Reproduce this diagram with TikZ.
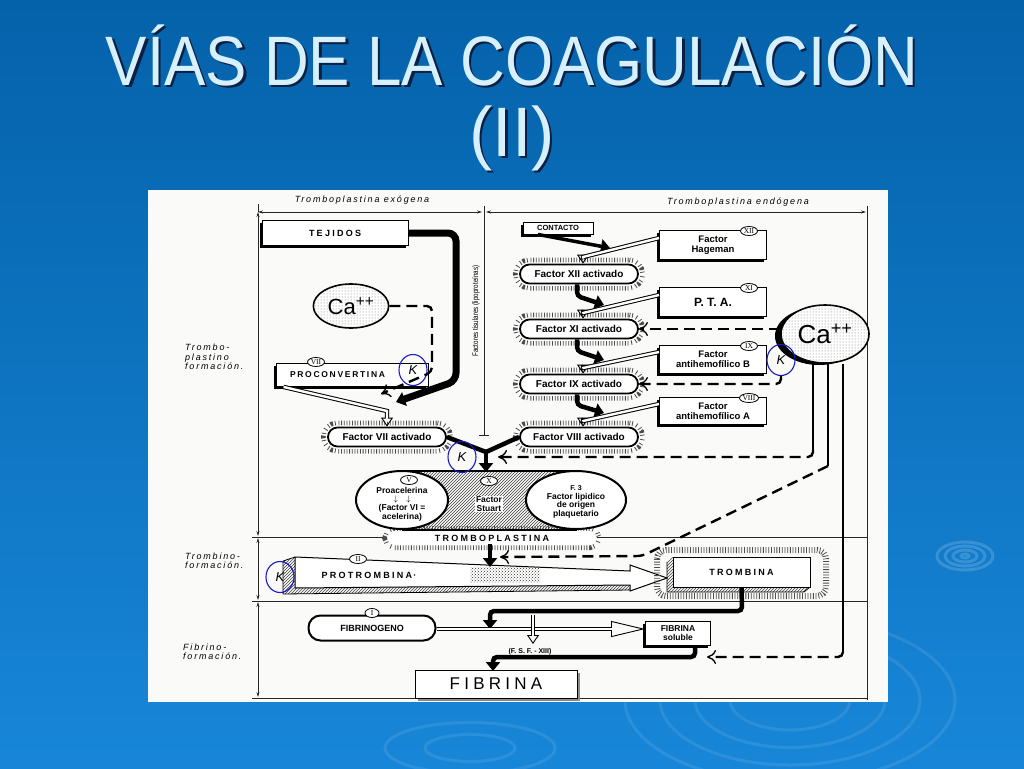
\documentclass[tikz,border=0pt]{standalone}
\usepackage{fontspec}
\setmainfont{Liberation Sans}
\newfontfamily\spacedFont[LetterSpace=25]{Liberation Sans}
\newfontfamily\wideFont[LetterSpace=20]{Liberation Sans}
\newfontfamily\romanFont{Liberation Serif}
\usepackage{tikz}
\usetikzlibrary{shapes.geometric, arrows.meta, patterns, shadows}
\definecolor{slideTop}{RGB}{4,98,170}
\definecolor{slideBottom}{RGB}{24,134,216}
\definecolor{titleBlue}{RGB}{214,240,255}
\definecolor{titleShade}{RGB}{12,32,66}
\definecolor{paper}{RGB}{250,250,249}
\definecolor{kBlue}{RGB}{25,25,200}
\newcommand{\shadowText}[1]{\makebox[0pt][l]{\hspace*{2.5pt}\raisebox{-2.5pt}{\textcolor{titleShade}{#1}}}#1}
\tikzstyle{titleText} = [anchor=base, inner sep=0pt, text=titleBlue, font=\fontsize{70}{70}\selectfont]
\tikzstyle{ripple} = [draw=white, opacity=0.09, line width=3pt]
\tikzstyle{frameLine} = [line width=0.7pt, black!85]
\tikzstyle{dimLine} = [line width=0.7pt, black!85, {Stealth[length=5pt, width=3pt]}-{Stealth[length=5pt, width=3pt]}]
\tikzstyle{sideLabel} = [inner sep=0pt, align=left, anchor=west, font=\wideFont\itshape\fontsize{9}{9.5}\selectfont]
\tikzstyle{factorBox} = [rectangle, draw=black, line width=0.9pt, fill=white, align=center, drop shadow={shadow xshift=-2.5pt, shadow yshift=-2.5pt, fill=black, opacity=1}, font=\bfseries\fontsize{9.5}{10}\selectfont]
\tikzstyle{activeNode} = [rectangle, rounded corners=9.5pt, draw=black, line width=1.8pt, fill=white, minimum width=118pt, minimum height=19pt, font=\bfseries\fontsize{10}{10}\selectfont, preaction={draw=black!70, line width=14pt, dash pattern=on 0.8pt off 1.9pt}, preaction={draw=white, line width=4.5pt}]
\tikzstyle{romanTag} = [ellipse, draw=black, line width=0.8pt, fill=white, inner sep=0.3pt, minimum width=17pt, minimum height=9pt, font=\romanFont\fontsize{7.5}{7.5}\selectfont]
\tikzstyle{caNode} = [ellipse, draw=black, line width=1.6pt, fill=white, postaction={pattern=dots, pattern color=black!55}, font=\fontsize{22}{22}\selectfont]
\tikzstyle{kNode} = [ellipse, draw=kBlue, line width=1.1pt, minimum width=28pt, minimum height=31pt, inner sep=0pt, font=\itshape\fontsize{13}{13}\selectfont]
\tikzstyle{ringNode} = [ellipse, draw=black, line width=2pt, fill=white]
\tikzstyle{ringText} = [align=center, inner sep=0pt, font=\bfseries\fontsize{8.5}{8.7}\selectfont]
\tikzstyle{thickLink} = [line width=4.5pt, rounded corners=4pt]
\tikzstyle{thickArrow} = [line width=4.5pt, rounded corners=4pt, -{Triangle[length=9pt, width=14pt]}]
\tikzstyle{dashArrow} = [line width=2.4pt, dash pattern=on 11pt off 6pt, rounded corners=5pt, -{To[length=9pt, width=14pt, line width'=1.3pt]}]
\tikzstyle{hollowArrow} = [line width=4.4pt, -{Triangle[open, length=9pt, width=12pt, line width'=0.9pt]}, postaction={draw=white, line width=2.4pt, -, shorten >=5pt}]
\tikzstyle{longHollowArrow} = [line width=4.4pt, -{Triangle[open, length=34pt, width=16pt, line width'=0.9pt]}, postaction={draw=white, line width=2.4pt, -, shorten >=20pt}]
\tikzstyle{haloLine} = [draw=black!70, line width=6pt, dash pattern=on 0.8pt off 1.9pt]
\tikzstyle{hatch} = [pattern=north east lines, pattern color=black!75]
\begin{document}
\begin{tikzpicture}[x=1pt, y=-1pt]
% slide background
\fill[top color=slideTop, bottom color=slideBottom] (0,0) rectangle (1024,768);
\useasboundingbox (0,0) rectangle (1024,768);
\foreach \r in {4,12,20,28}
  \draw[ripple, opacity=0.16] (965,556) ellipse [x radius=\r, y radius=\r/2];
\foreach \r in {60,95,130,165}
  \draw[ripple] (790,700) ellipse [x radius=\r, y radius=0.5*\r];
\foreach \r in {45,85}
  \draw[ripple] (470,748) ellipse [x radius=\r, y radius=0.3*\r];
\fill[paper] (148,190) rectangle (888,702);

% title
\node (title) [titleText] at (512,85) {\shadowText{\scalebox{0.885}[1]{VÍAS DE LA COAGULACIÓN}}};
\node (part) [titleText] at (512,156) {\shadowText{(II)}};

% frame of the scheme
\draw[dimLine] (258,212) -- (482,212);
\draw[dimLine] (486,212) -- (866,212);
\draw[dimLine] (258,212) -- (258,536);
\draw[dimLine] (258,538) -- (258,600);
\draw[dimLine] (258,602) -- (258,697);
\draw[frameLine] (258,204) -- (258,212);
\draw[frameLine] (484,206) -- (484,435) (479,435) -- (489,435);
\draw[frameLine] (867,206) -- (867,700);
\draw[frameLine] (252,537) -- (867,537);
\draw[frameLine] (252,601) -- (867,601);
\draw[frameLine] (252,698) -- (867,698);
\node (exoLabel) [sideLabel, anchor=center] at (362,200) {Tromboplastina exógena};
\node (endoLabel) [sideLabel, anchor=center] at (738,202) {Tromboplastina endógena};
\node (tromboLabel) [sideLabel] at (185,357) {Trombo-\\plastino\\formación.};
\node (trombinoLabel) [sideLabel] at (185,561) {Trombino-\\formación.};
\node (fibrinoLabel) [sideLabel] at (183,652) {Fibrino-\\formación.};
\node (tisular) [rotate=90, inner sep=0pt, font=\fontsize{8}{8}\selectfont] at (476,311) {\scalebox{0.78}[1]{Factores tisulares (lipoproteínas)}};

% exogenous way
\node (tejidos) [factorBox, minimum width=146pt, minimum height=25pt, font=\spacedFont\bfseries\fontsize{9}{10}\selectfont] at (335,233) {TEJIDOS};
\node (ca1) [caNode, minimum width=70pt, minimum height=44pt] at (351,306) {Ca\textsuperscript{++}};
\node (proconv) [factorBox, minimum width=152pt, minimum height=23pt, text width=140pt, align=left, font=\wideFont\bfseries\fontsize{8.5}{9}\selectfont] at (352,375) {\hspace*{8pt}PROCONVERTINA};
\node (vii) [romanTag] at (316,362) {VII};
\node (k1) [kNode] at (413,370) {K};
\node (fVII) [activeNode] at (387,437) {Factor VII activado};

\coordinate (tejBend1) at (456,233);
\coordinate (tejBend2) at (456,381);
\coordinate (tejEnd) at (396,402);
\draw[thickArrow, line width=7pt, rounded corners=8pt] (tejidos.east) -- (tejBend1) -- (tejBend2) -- (tejEnd);
\coordinate (caBend1) at (432,306);
\coordinate (caBend2) at (432,372);
\coordinate (caEnd) at (381,394);
\draw[dashArrow] (ca1.east) -- (caBend1) -- (caBend2) -- (caEnd);
\coordinate (procBend) at (387,411);
\draw[hollowArrow] ([xshift=8pt]proconv.south west) -- (procBend) -- (fVII.north);

% endogenous way
\node (contacto) [factorBox, minimum width=70pt, minimum height=12pt, inner sep=1pt, font=\bfseries\fontsize{7.5}{8}\selectfont] at (558,228) {CONTACTO};
\node (hageman) [factorBox, minimum width=107pt, minimum height=29pt] at (713,245) {Factor\\Hageman};
\node (xii) [romanTag] at (749,231) {XII};
\node (fXII) [activeNode] at (579,274) {Factor XII activado};
\node (pta) [factorBox, minimum width=107pt, minimum height=29pt, font=\bfseries\fontsize{12}{12}\selectfont] at (713,302) {P. T. A.};
\node (xi) [romanTag] at (749,288) {XI};
\node (fXI) [activeNode] at (579,329) {Factor XI activado};
\node (antiB) [factorBox, minimum width=107pt, minimum height=28pt] at (713,359) {Factor\\antihemofílico B};
\node (ix) [romanTag] at (749,346) {IX};
\node (fIX) [activeNode] at (579,384) {Factor IX activado};
\node (antiA) [factorBox, minimum width=107pt, minimum height=27pt] at (713,411) {Factor\\antihemofílico A};
\node (viii) [romanTag] at (749,398) {VIII};
\node (fVIII) [activeNode] at (579,437) {Factor VIII activado};
\node (ca2) [caNode, minimum width=88pt, minimum height=58pt, font=\fontsize{26}{26}\selectfont, drop shadow={shadow xshift=-6pt, shadow yshift=-2pt, fill=black, opacity=1}] at (825,334) {Ca\textsuperscript{++}};
\node (k3) [kNode] at (781,360) {K};

\coordinate (contEnd) at (610,248);
\draw[thickArrow, line width=3.5pt] ([xshift=-20pt]contacto.south) -- (contEnd);
\coordinate (hagBend) at (583,257);
\draw[hollowArrow] ([yshift=7pt]hageman.west) -- (hagBend) -- ([xshift=4pt]fXII.north);
\coordinate (xiiDown) at (577,296);
\coordinate (xiiEnd) at (604,305);
\draw[thickArrow] ([xshift=-2pt]fXII.south) -- (xiiDown) -- (xiiEnd);
\coordinate (ptaBend) at (583,313);
\draw[hollowArrow] ([yshift=7pt]pta.west) -- (ptaBend) -- ([xshift=4pt]fXI.north);
\coordinate (xiDown) at (577,351);
\coordinate (xiEnd) at (604,360);
\draw[thickArrow] ([xshift=-2pt]fXI.south) -- (xiDown) -- (xiEnd);
\coordinate (antiBBend) at (583,368);
\draw[hollowArrow] ([yshift=7pt]antiB.west) -- (antiBBend) -- ([xshift=4pt]fIX.north);
\coordinate (ixDown) at (577,405);
\coordinate (ixEnd) at (604,413);
\draw[thickArrow] ([xshift=-2pt]fIX.south) -- (ixDown) -- (ixEnd);
\coordinate (antiABend) at (583,421);
\draw[hollowArrow] ([yshift=7pt]antiA.west) -- (antiABend) -- ([xshift=4pt]fVIII.north);
\draw[dashArrow] ([yshift=5pt]ca2.west) -- (fXI.east);
\draw[dashArrow] (k3.south) |- (fIX.east);

% calcium lines
\coordinate (caTurnA) at (813,450);
\coordinate (xArrowTip) at (498,457);
\draw[thickLink, line width=2.8pt] ([xshift=-12pt]ca2.south) -- (caTurnA);
\draw[dashArrow] (caTurnA) |- (xArrowTip);
\coordinate (caTurnB) at (828,466);
\coordinate (caDiagB) at (642,556);
\coordinate (protTip) at (500,557);
\draw[thickLink, line width=2.8pt] ([xshift=3pt]ca2.south) -- (caTurnB);
\draw[dashArrow] (caTurnB) -- (caDiagB) -- (protTip);
\coordinate (caTurnC) at (843,652);
\coordinate (fibTip) at (707,657);
\draw[thickLink, line width=2.8pt] ([xshift=18pt]ca2.south) -- (caTurnC);
\draw[dashArrow] (caTurnC) |- (fibTip);

% tromboplastin
\node (tplast) [activeNode, draw=none, rounded corners=5pt, minimum width=205pt, minimum height=10pt, inner sep=1pt, font=\spacedFont\bfseries\fontsize{9}{9}\selectfont] at (492,538) {TROMBOPLASTINA};
\fill[hatch] (402,471) rectangle (577,530);
\draw[line width=1.5pt] (402,471) -- (577,471) (402,530) -- (577,530);
\node (proac) [ringNode, minimum width=92pt, minimum height=58pt] at (402,500) {};
\node (proacText) [ringText] at (402,504) {Proacelerina\\$\downarrow$\quad$\downarrow$\\(Factor VI =\\acelerina)};
\node (f3) [ringNode, minimum width=100pt, minimum height=58pt] at (576,500) {};
\node (f3Text) [ringText] at (576,502) {{\fontsize{7}{7}\selectfont F. 3}\\Factor lipidico\\de origen\\plaquetario};
\node (stuart) [fill=white, inner sep=1pt, align=center, font=\bfseries\fontsize{8.5}{9}\selectfont] at (489,504) {Factor\\Stuart};
\node (v) [romanTag] at (409,480) {V};
\node (x) [romanTag] at (489,481) {X};
\coordinate (xJoin) at (486,452);
\coordinate (stuartTop) at (486,472);
\draw[thickLink] (fVII.east) -- (xJoin);
\draw[thickLink] (fVIII.west) -- (xJoin);
\draw[thickArrow] (xJoin) -- (stuartTop);
\node (k2) [kNode] at (462,457) {K};

% thrombin formation
\fill[hatch] (283,561) -- (295,557) -- (295,588) -- (283,594) -- cycle;
\fill[hatch] (283,594) -- (295,588) -- (630,585) -- (630,590) -- cycle;
\draw[line width=0.8pt] (283,561) -- (295,557) (283,561) -- (283,594) -- (630,590);
\draw[line width=1pt, fill=white] (295,557) -- (630,571) -- (630,565) -- (667,578) -- (630,591) -- (630,585) -- (295,588) -- cycle;
\fill[pattern=crosshatch dots, pattern color=black!80] (470,567) rectangle (540,582);
\node (prot) [inner sep=0pt, font=\spacedFont\bfseries\fontsize{9}{9}\selectfont] at (369,575) {PROTROMBINA\,·};
\node (ii) [romanTag] at (358,559) {II};
\node (k4) [kNode] at (280,577) {K};
\coordinate (protTop) at (490,567);
\draw[thickArrow] ([xshift=-2pt]tplast.south) -- (protTop);
\draw[haloLine, rounded corners=9pt] (657,550) rectangle (826,596);
\fill[hatch] (667,562) -- (673,557) -- (673,587) -- (667,592) -- cycle;
\fill[hatch] (667,592) -- (673,587) -- (810,587) -- (804,592) -- cycle;
\draw[line width=0.8pt] (667,562) -- (667,592) -- (804,592) -- (810,587);
\node (trombina) [rectangle, draw, line width=1pt, fill=white, minimum width=137pt, minimum height=30pt, font=\spacedFont\bfseries\fontsize{9}{9}\selectfont] at (741.5,572) {TROMBINA};

% fibrin formation
\node (fibrinogeno) [rectangle, rounded corners=12pt, draw, line width=2pt, fill=white, minimum width=127pt, minimum height=25pt, font=\bfseries\fontsize{9}{9}\selectfont] at (372,628) {FIBRINOGENO};
\node (i) [romanTag, minimum width=14pt] at (372,613) {I};
\node (fibsol) [factorBox, minimum width=65pt, minimum height=24pt, font=\bfseries\fontsize{8.5}{9}\selectfont] at (678,633) {FIBRINA\\soluble};
\node (fibrina) [rectangle, draw, line width=1pt, fill=white, minimum width=162pt, minimum height=28pt, font=\spacedFont\fontsize{17}{17}\selectfont, drop shadow={shadow xshift=3pt, shadow yshift=-3pt, fill=black!45, opacity=1}] at (496,684) {FIBRINA};
\node (fsf) [inner sep=0pt, font=\bfseries\fontsize{7}{7}\selectfont] at (530,652) {(F. S. F. - XIII)};

\coordinate (tromDown) at (742,611);
\coordinate (fibTurn) at (490,611);
\coordinate (fibgTip) at (490,629);
\draw[thickArrow] (trombina.south) -- (tromDown) -- (fibTurn) -- (fibgTip);
\draw[longHollowArrow] ([yshift=-1pt]fibrinogeno.east) -- ([yshift=4pt]fibsol.west);
\coordinate (fsfTop) at (533,615);
\coordinate (fsfTip) at (533,644);
\draw[hollowArrow] (fsfTop) -- (fsfTip);
\coordinate (solDown) at (695,657);
\coordinate (solTurn) at (493,657);
\coordinate (fibrinaTip) at (493,671);
\draw[thickArrow] ([xshift=17pt]fibsol.south) -- (solDown) -- (solTurn) -- (fibrinaTip);
\end{tikzpicture}
\end{document}
